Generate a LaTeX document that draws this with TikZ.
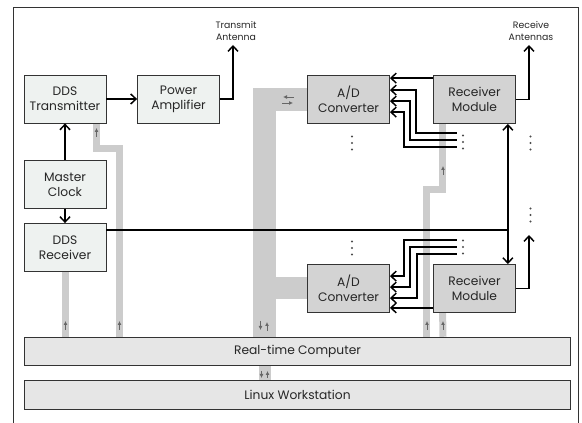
\documentclass[tikz,border=0pt]{standalone}
\usepackage{fontspec}
\setmainfont{Poppins}
\usetikzlibrary{arrows.meta,calc,backgrounds}
\definecolor{boxlight}{HTML}{EEF2F0}
\definecolor{boxdark}{HTML}{D3D3D3}
\definecolor{boxbase}{HTML}{E6E6E6}
\definecolor{busgray}{HTML}{CCCCCC}
\definecolor{tipgray}{HTML}{666666}
\begin{document}
\begin{tikzpicture}[x=0.75pt, y=-0.75pt,
    every node/.style={font=\fontsize{9.2}{11.5}\selectfont, align=center, text=black!85},
    block/.style={draw=black!80, line width=0.6pt, minimum width=61.5pt, minimum height=36pt, inner sep=0pt},
    base/.style={draw=black!80, line width=0.6pt, fill=boxbase, minimum width=410pt, minimum height=21.5pt, inner sep=0pt},
    antlabel/.style={font=\fontsize{7}{9.5}\selectfont},
    sig/.style={line width=1.1pt, black},
    >={Straight Barb[length=4pt, width=7.5pt]},
    bus/.style={draw=busgray, line width=5.25pt},
    busarrow/.style={draw=tipgray, line width=0.6pt, -{Latex[length=3pt, width=3pt]}},
    vdots/.pic={\foreach \d in {-6.5,0,6.5} \fill[black!70] (0,\d) circle (1.1);}
  ]
  \useasboundingbox (0,0) rectangle (582,423);
  \draw[black!80, line width=0.6pt] (13,423) -- (13,7) -- (578,7) -- (578,423);

  % blocks
  \node[block, fill=boxlight] (dtx) at (65,99) {DDS\\Transmitter};
  \node[block, fill=boxlight] (pa) at (178.5,99) {Power\\Amplifier};
  \node[block, fill=boxlight] (mc) at (65,184.5) {Master\\Clock};
  \node[block, fill=boxlight] (drx) at (65,247.5) {DDS\\Receiver};
  \node[block, fill=boxdark] (adc1) at (348.5,99.5) {A/D\\Converter};
  \node[block, fill=boxdark] (rxm1) at (474.5,99.5) {Receiver\\Module};
  \node[block, fill=boxdark] (adc2) at (348.5,288.5) {A/D\\Converter};
  \node[block, fill=boxdark] (rxm2) at (474.5,288.5) {Receiver\\Module};
  \node[base] (rtc) at (297.5,351.5) {Real-time Computer};
  \node[base] (lnx) at (297.5,395) {Linux Workstation};

  % data buses
  \coordinate (bx) at (264.5,0);
  \begin{scope}[on background layer]
    \draw[bus, line width=17.25pt] (rtc.north -| bx) |- (adc1.west);
    \draw[bus, line width=16.5pt] (bx |- adc2.west) -- (adc2.west);
    \draw[bus, line width=9pt] (rtc.south -| bx) -- (lnx.north -| bx);
    \draw[bus] ($(drx.south)+(0.5,0)$) -- (rtc.north -| 65.5,0);
    \draw[bus] ($(dtx.south east)+(-9.5,0)$) -- ++(0,25.5) -| ($(rtc.north west)+(95.5,0)$);
    \draw[bus] ($(rxm1.south west)+(9.5,0)$) -- ++(0,66) -| ($(rtc.north west)+(403,0)$);
    \draw[bus] ($(rxm2.south west)+(9.5,0)$) -- (rtc.north -| 443,0);
  \end{scope}
  \draw[busarrow] (65.5,330) -- ++(0,-9);
  \draw[busarrow] (119.5,330) -- ++(0,-9);
  \draw[busarrow] (96.5,137) -- ++(0,-9);
  \draw[busarrow] (443,175) -- ++(0,-9);
  \draw[busarrow] (427,330) -- ++(0,-9);
  \draw[busarrow] (443,330) -- ++(0,-9);
  \draw[busarrow] (260.5,321) -- ++(0,9);
  \draw[busarrow] (267,331) -- ++(0,-9);
  \draw[busarrow] (261.5,371) -- ++(0,7);
  \draw[busarrow] (267.5,378) -- ++(0,-7);
  \draw[busarrow] (294,97) -- ++(-11,0);
  \draw[busarrow] (282,103) -- ++(11,0);

  % transmit path
  \coordinate (txant) at (233,45);
  \draw[sig,->] (dtx) -- (pa);
  \draw[sig,->] (mc) -- (dtx);
  \draw[sig,->] (mc) -- (drx);
  \draw[sig,->] (pa.east) -| (txant);
  \node[antlabel] (txlabel) at (236,31) {Transmit\\Antenna};

  % receive antennas
  \coordinate (rxant1) at (529,45);
  \coordinate (rxant2) at (529,235);
  \draw[sig,->] (rxm1.east) -| (rxant1);
  \draw[sig,->] (rxm2.east) -| (rxant2);
  \node[antlabel] (rxlabel) at (531,31) {Receive\\Antennas};

  % clock distribution
  \coordinate (clk1) at ($(rxm1.south east)+(-8,0)$);
  \coordinate (clk2) at ($(rxm2.north east)+(-8,0)$);
  \draw[sig,<->] (clk1) -- (clk2);
  \draw[sig] ($(drx.north east)+(0,7)$) coordinate (clk0) -- (clk0 -| clk1);

  % A/D inputs
  \draw[sig,->] ($(rxm1.north west)+(0,3)$) -- ($(adc1.north east)+(0,3)$);
  \foreach \dy/\dx/\dz in {15/26/58, 26/20/65, 37/14/72}
    \draw[sig,->] ($(adc1.north east)+(67,\dz)$) -| ($(adc1.north east)+(\dx,\dy)$) -- ($(adc1.north east)+(0,\dy)$);
  \draw[sig,->] ($(rxm2.south west)+(0,-5)$) -- ($(adc2.south east)+(0,-5)$);
  \foreach \dy/\dx/\dz in {12/14/-24, 23/20/-17, 34/27/-10}
    \draw[sig,->] ($(adc2.north east)+(67,\dz)$) -| ($(adc2.north east)+(\dx,\dy)$) -- ($(adc2.north east)+(0,\dy)$);

  % more channels
  \pic at (352,143) {vdots};
  \pic at (463,142) {vdots};
  \pic at (530.5,143) {vdots};
  \pic at (530.5,215) {vdots};
  \pic at (352,248) {vdots};
  \pic at (463,247) {vdots};
\end{tikzpicture}
\end{document}
